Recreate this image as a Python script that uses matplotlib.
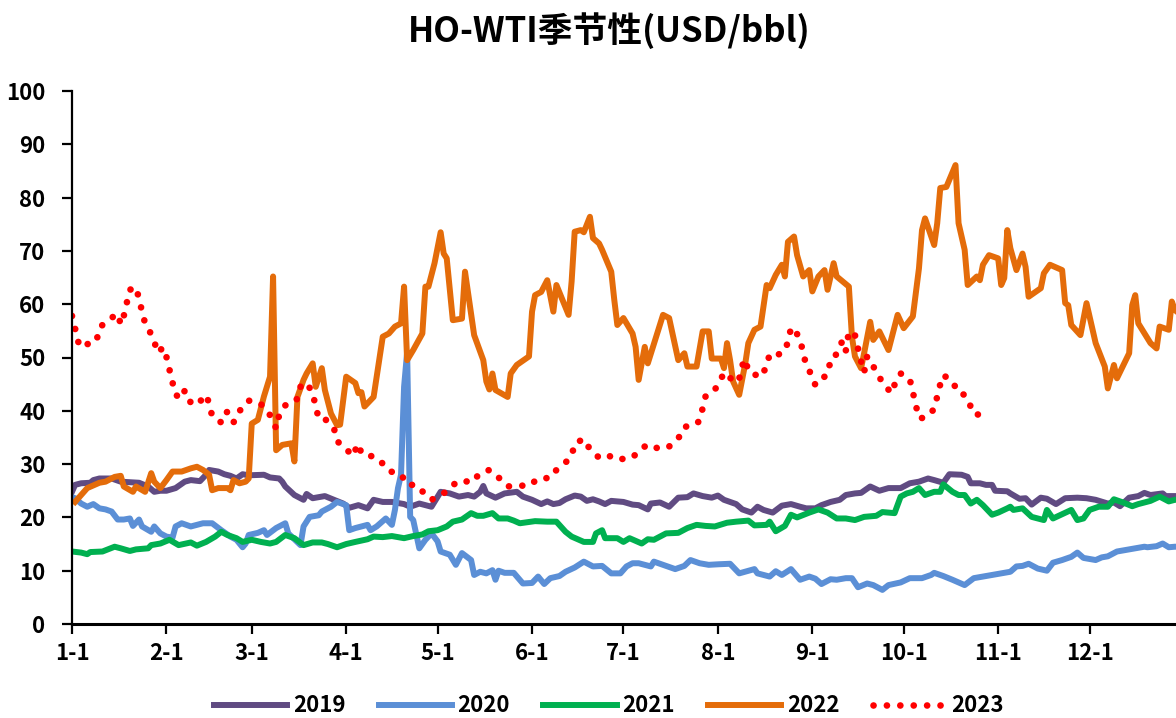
import matplotlib
matplotlib.use("Agg")
import matplotlib.pyplot as plt

plt.rcParams['font.family'] = ['Noto Sans CJK SC', 'DejaVu Sans']
plt.rcParams['font.weight'] = 'bold'

# month start (day of year) and tick labels
month_days = [0, 31, 59, 90, 120, 151, 181, 212, 243, 273, 304, 334]
month_labels = ['1-1', '2-1', '3-1', '4-1', '5-1', '6-1', '7-1', '8-1', '9-1', '10-1', '11-1', '12-1']

# HO-WTI spread by day of year, USD/bbl
days_2019 = [0, 1, 3, 6, 7, 9, 13, 16, 22, 25, 27, 29, 31, 34, 37, 39, 42, 44, 45, 48, 50, 52, 54, 56, 58,
             63, 65, 68, 69, 70, 73, 76, 77, 79, 83, 86, 89, 91, 94, 97, 99, 102, 105, 109, 111, 114, 118,
             121, 124, 127, 130, 132, 134, 135, 136, 139, 142, 146, 148, 151, 154, 156, 158, 160, 162, 165,
             167, 169, 171, 173, 175, 177, 181, 184, 186, 189, 190, 193, 196, 199, 202, 204, 207, 210, 212,
             214, 218, 220, 223, 225, 227, 230, 233, 236, 239, 241, 244, 246, 249, 252, 254, 257, 259, 262,
             265, 268, 272, 275, 278, 281, 283, 286, 288, 292, 294, 295, 298, 300, 302, 303, 307, 308, 311,
             313, 315, 318, 320, 323, 326, 330, 333, 336, 340, 342, 344, 347, 350, 352, 354, 358, 359, 362, 364]
vals_2019 = [24.8, 26.1, 26.4, 26.5, 27.0, 27.3, 27.3, 26.7, 26.5, 25.8, 24.8, 25.0, 25.0, 25.5, 26.7, 27.0,
             26.8, 28.0, 28.9, 28.6, 28.1, 27.8, 27.3, 28.1, 27.9, 28.0, 27.5, 27.3, 26.7, 25.8, 24.2, 23.3,
             24.4, 23.6, 24.0, 23.3, 22.6, 21.8, 22.3, 21.7, 23.3, 22.9, 22.9, 22.5, 22.0, 22.6, 22.0, 24.8,
             24.5, 23.9, 24.2, 23.9, 24.8, 25.9, 24.5, 23.7, 24.5, 24.8, 23.9, 23.3, 22.5, 23.0, 22.5, 22.7,
             23.4, 24.1, 23.9, 23.1, 23.4, 23.0, 22.5, 23.1, 22.9, 22.4, 22.3, 21.5, 22.6, 22.8, 22.0, 23.7,
             23.8, 24.5, 24.0, 23.7, 24.1, 23.3, 22.5, 21.5, 20.9, 22.0, 21.4, 20.9, 22.2, 22.5, 22.0, 21.7,
             21.7, 22.3, 22.9, 23.3, 24.2, 24.5, 24.6, 25.8, 25.0, 25.5, 25.5, 26.4, 26.7, 27.3, 27.0, 26.5,
             28.1, 28.0, 27.6, 26.4, 26.4, 26.1, 26.1, 25.0, 24.9, 24.5, 23.5, 23.6, 22.4, 23.7, 23.5, 22.5,
             23.6, 23.7, 23.6, 23.3, 22.6, 22.8, 22.1, 23.7, 24.0, 24.6, 24.2, 24.5, 24.0, 24.0, 24.0]

days_2020 = [0, 1, 3, 5, 7, 8, 9, 11, 13, 15, 17, 19, 20, 22, 23, 26, 27, 29, 31, 33, 34, 36, 39, 41, 43,
             46, 49, 52, 54, 56, 57, 58, 61, 63, 64, 67, 70, 71, 75, 76, 78, 81, 82, 85, 87, 90, 91, 93, 97,
             98, 100, 103, 105, 106, 107, 108, 109, 110, 111, 112, 114, 116, 118, 120, 121, 124, 126, 128,
             131, 132, 134, 136, 138, 139, 140, 142, 145, 148, 151, 153, 155, 157, 160, 162, 165, 168, 171,
             174, 177, 180, 182, 184, 186, 190, 191, 194, 198, 201, 203, 206, 209, 212, 216, 219, 224, 225,
             229, 231, 233, 236, 239, 242, 244, 246, 249, 251, 254, 256, 258, 261, 263, 266, 268, 272, 275,
             279, 282, 283, 286, 289, 293, 296, 299, 302, 305, 308, 310, 312, 314, 317, 320, 322, 325, 328,
             330, 332, 336, 338, 340, 343, 346, 349, 352, 353, 356, 358, 360, 362, 364]
vals_2020 = [23.8, 23.6, 22.6, 22.0, 22.5, 22.1, 21.7, 21.5, 21.1, 19.6, 19.6, 19.8, 18.4, 19.6, 18.3, 17.3,
             18.3, 17.0, 16.4, 16.2, 18.3, 18.9, 18.3, 18.6, 18.9, 18.9, 17.6, 16.4, 15.8, 14.4, 15.1, 16.7,
             17.1, 17.6, 16.7, 18.0, 18.9, 17.0, 14.8, 18.3, 20.1, 20.4, 21.1, 22.0, 22.9, 22.3, 17.6, 18.0,
             18.6, 17.6, 18.3, 19.8, 18.6, 21.4, 25.5, 28.0, 44.5, 51.0, 20.1, 19.5, 14.2, 15.8, 17.0, 15.5,
             13.6, 13.0, 11.1, 13.3, 12.0, 9.2, 9.8, 9.5, 10.1, 8.3, 10.0, 9.6, 9.6, 7.6, 7.7, 8.9, 7.5, 8.6,
             9.0, 9.8, 10.6, 11.7, 10.8, 10.9, 9.5, 9.5, 10.8, 11.4, 11.4, 10.8, 11.7, 11.1, 10.3, 10.9, 12.0,
             11.4, 11.1, 11.2, 11.3, 9.5, 10.3, 9.5, 8.9, 9.9, 9.2, 10.3, 8.3, 8.9, 8.5, 7.5, 8.4, 8.3, 8.6,
             8.6, 6.9, 7.6, 7.3, 6.4, 7.3, 7.8, 8.6, 8.6, 9.2, 9.6, 9.0, 8.3, 7.3, 8.6, 8.9, 9.2, 9.5, 9.8,
             10.8, 10.9, 11.3, 10.4, 10.0, 11.5, 12.0, 12.6, 13.4, 12.4, 12.0, 12.5, 12.7, 13.6, 13.9, 14.2,
             14.5, 14.4, 14.6, 15.1, 14.4, 14.5, 14.5]

days_2021 = [0, 3, 5, 6, 10, 14, 16, 19, 21, 25, 26, 29, 32, 35, 39, 41, 44, 47, 49, 51, 54, 56, 59, 62, 65,
             67, 70, 73, 76, 79, 82, 84, 87, 90, 93, 97, 99, 102, 105, 109, 112, 115, 117, 120, 123, 125, 128,
             131, 133, 135, 138, 140, 143, 145, 147, 152, 156, 159, 162, 164, 168, 171, 172, 174, 175, 179,
             181, 183, 187, 189, 191, 195, 199, 202, 205, 208, 211, 215, 218, 222, 224, 228, 229, 231, 234,
             236, 238, 242, 245, 248, 251, 254, 257, 260, 264, 266, 270, 272, 274, 276, 278, 280, 283, 285,
             286, 289, 291, 293, 295, 297, 299, 302, 304, 307, 308, 309, 312, 315, 319, 320, 322, 325, 328,
             330, 332, 334, 337, 340, 342, 345, 348, 350, 354, 357, 360, 362, 364]
vals_2021 = [13.6, 13.4, 13.1, 13.5, 13.6, 14.5, 14.2, 13.7, 14.0, 14.2, 14.8, 15.1, 15.8, 14.8, 15.3, 14.7,
             15.4, 16.4, 17.3, 16.7, 16.1, 15.4, 15.8, 15.4, 15.1, 15.4, 16.7, 16.1, 14.8, 15.3, 15.3, 15.0,
             14.4, 15.0, 15.4, 15.9, 16.4, 16.3, 16.5, 16.1, 16.5, 16.8, 17.4, 17.6, 18.3, 19.2, 19.6, 20.8,
             20.3, 20.3, 20.8, 19.8, 19.8, 19.4, 18.9, 19.3, 19.2, 19.2, 17.3, 16.4, 15.4, 15.4, 17.0, 17.6,
             16.1, 16.1, 15.4, 16.1, 15.1, 15.9, 15.8, 17.0, 17.1, 18.0, 18.6, 18.4, 18.3, 19.0, 19.2, 19.4,
             18.5, 18.6, 19.2, 17.4, 18.4, 20.5, 20.0, 20.9, 21.5, 20.9, 19.8, 19.8, 19.5, 20.1, 20.3, 21.0,
             20.8, 23.9, 24.5, 24.8, 25.5, 24.2, 24.8, 24.8, 26.2, 24.8, 24.2, 24.2, 22.6, 23.3, 22.3, 20.5,
             20.9, 21.7, 22.0, 21.4, 21.7, 20.1, 19.5, 21.4, 19.8, 20.6, 21.4, 19.5, 19.8, 21.4, 22.0, 22.0,
             23.4, 22.8, 22.1, 22.5, 23.1, 23.9, 23.0, 23.3, 23.3]

days_2022 = [1, 5, 9, 11, 14, 16, 17, 20, 21, 24, 26, 27, 29, 31, 33, 36, 39, 41, 43, 45, 46, 48, 51, 52,
             53, 55, 57, 58, 59, 61, 63, 65, 66, 67, 69, 72, 73, 74, 76, 77, 79, 80, 82, 83, 85, 87, 88, 90,
             93, 94, 95, 96, 99, 102, 104, 106, 108, 109, 110, 112, 115, 116, 117, 119, 121, 122, 123, 125,
             128, 129, 132, 135, 136, 137, 138, 139, 143, 144, 146, 150, 151, 152, 154, 156, 158, 159, 163,
             164, 165, 167, 168, 170, 171, 173, 174, 177, 178, 179, 181, 184, 185, 186, 188, 189, 194, 196,
             199, 201, 202, 205, 207, 209, 210, 213, 214, 215, 216, 217, 219, 221, 222, 224, 226, 228, 229,
             231, 233, 234, 235, 237, 238, 240, 242, 243, 245, 247, 248, 250, 251, 255, 256, 257, 259, 260,
             262, 263, 265, 268, 271, 273, 276, 278, 279, 280, 283, 284, 285, 287, 290, 291, 293, 294, 297,
             298, 299, 301, 304, 305, 306, 307, 308, 310, 312, 313, 314, 318, 319, 321, 325, 326, 327, 328,
             331, 333, 336, 339, 340, 342, 343, 347, 348, 349, 350, 354, 356, 357, 360, 361, 362, 364]
vals_2022 = [22.9, 25.5, 26.5, 26.7, 27.6, 27.8, 25.8, 24.8, 25.8, 24.8, 28.3, 26.7, 25.5, 27.0, 28.6, 28.6,
             29.2, 29.5, 28.9, 28.0, 25.1, 25.5, 25.5, 25.1, 27.0, 26.4, 26.7, 27.3, 37.6, 38.3, 42.7, 46.4,
             65.2, 32.6, 33.6, 33.9, 30.5, 42.6, 45.8, 47.0, 48.9, 44.5, 48.0, 43.9, 39.5, 37.3, 37.4, 46.4,
             45.2, 43.3, 43.5, 40.8, 42.6, 53.9, 54.5, 55.8, 56.4, 63.3, 49.5, 51.4, 54.5, 63.3, 63.3, 67.7,
             73.5, 69.5, 68.6, 57.0, 57.3, 66.1, 54.2, 49.5, 45.5, 44.0, 47.0, 43.9, 42.6, 47.0, 48.6, 50.2,
             58.6, 61.7, 62.3, 64.5, 58.6, 63.6, 58.0, 64.3, 73.6, 73.9, 73.5, 76.4, 72.4, 71.4, 70.2, 66.1,
             60.8, 56.1, 57.4, 54.5, 52.0, 45.8, 52.0, 48.9, 58.0, 57.4, 49.5, 50.8, 48.3, 48.3, 54.9, 54.9,
             49.8, 49.8, 48.0, 52.7, 49.5, 45.5, 43.0, 48.9, 52.7, 55.2, 55.8, 63.6, 63.0, 65.5, 67.4, 65.2,
             71.7, 72.7, 69.2, 65.2, 66.4, 62.4, 65.2, 66.4, 62.7, 67.7, 65.2, 63.3, 53.9, 50.2, 48.0, 50.8,
             56.7, 53.3, 54.9, 51.4, 58.0, 55.5, 57.7, 66.7, 73.9, 76.1, 71.1, 75.2, 81.8, 82.0, 86.1, 75.2,
             70.2, 63.6, 65.2, 64.5, 67.4, 69.2, 68.6, 63.6, 64.9, 73.9, 70.5, 66.4, 69.5, 67.0, 61.4, 63.0,
             65.8, 67.4, 66.4, 60.2, 59.8, 56.1, 54.2, 60.2, 52.7, 48.3, 44.2, 48.6, 46.1, 50.8, 59.8, 61.7,
             56.4, 52.7, 51.7, 55.8, 55.2, 60.5, 58.9, 58.0]

days_2023 = [0, 1, 2, 3, 5, 8, 9, 11, 15, 16, 17, 18, 19, 21, 22, 23, 24, 25, 27, 28, 30, 31, 32, 33, 34,
             36, 37, 39, 41, 44, 45, 46, 49, 50, 51, 53, 55, 57, 58, 61, 64, 66, 67, 68, 70, 72, 74, 75, 77,
             79, 80, 81, 83, 86, 87, 90, 92, 94, 95, 97, 99, 102, 104, 108, 110, 113, 116, 118, 122, 125, 128,
             131, 134, 137, 140, 143, 146, 150, 153, 157, 159, 162, 164, 165, 168, 170, 173, 176, 178, 182,
             184, 186, 189, 193, 196, 199, 201, 204, 206, 207, 208, 211, 213, 215, 217, 219, 220, 221, 222,
             226, 228, 229, 232, 234, 235, 236, 237, 239, 240, 241, 243, 244, 247, 248, 250, 251, 253, 254,
             255, 257, 258, 259, 260, 261, 264, 266, 269, 270, 272, 275, 276, 277, 278, 280, 283, 284, 285,
             286, 289, 291, 293, 295, 297, 299]
vals_2023 = [57.8, 55.5, 53.0, 51.9, 52.5, 53.0, 55.5, 56.7, 58.2, 56.2, 57.8, 60.3, 62.7, 63.2, 61.0, 58.6,
             56.4, 55.5, 53.1, 50.9, 51.9, 50.1, 47.7, 45.3, 43.0, 42.3, 43.8, 41.5, 41.1, 43.0, 41.4, 39.0,
             37.8, 39.5, 39.8, 37.8, 40.0, 41.0, 41.9, 41.7, 40.3, 38.0, 36.7, 39.2, 41.0, 42.0, 42.2, 44.5,
             45.3, 43.3, 40.8, 38.5, 38.5, 36.7, 34.3, 32.9, 31.5, 33.8, 32.0, 31.5, 31.5, 30.1, 28.7, 28.1,
             26.1, 26.1, 24.3, 23.3, 24.5, 26.1, 27.0, 26.5, 28.3, 28.9, 27.5, 25.8, 26.0, 25.9, 27.3, 27.4,
             28.9, 30.3, 31.5, 33.9, 34.7, 32.8, 31.2, 31.7, 30.9, 31.0, 31.2, 32.5, 33.7, 32.8, 33.3, 34.8,
             37.0, 37.2, 38.1, 40.5, 42.8, 43.9, 46.2, 47.2, 45.3, 46.0, 48.5, 49.7, 47.4, 46.3, 48.3, 50.7,
             50.6, 51.2, 53.0, 55.5, 55.5, 53.3, 50.9, 48.5, 46.5, 44.8, 46.4, 48.4, 48.9, 51.1, 53.2, 51.3,
             54.9, 54.2, 51.7, 49.3, 47.2, 50.2, 47.4, 45.3, 43.3, 44.9, 47.0, 45.9, 43.5, 41.0, 38.6, 38.7,
             40.3, 42.7, 45.0, 46.7, 45.5, 43.3, 43.0, 40.8, 39.1, 40.3]

fig = plt.figure(figsize=(11.76, 7.18), dpi=100)
# axis runs to 12-31, a little past the right edge of the canvas
ax = fig.add_axes([72 / 1176, 1 - 624 / 718, 1112 / 1176, 533 / 718])

lw = 4.3
ax.plot(days_2019, vals_2019, color='#604B82', lw=lw, label='2019', solid_joinstyle='round')
ax.plot(days_2020, vals_2020, color='#5B8FD6', lw=lw, label='2020', solid_joinstyle='round')
ax.plot(days_2021, vals_2021, color='#00B050', lw=lw, label='2021', solid_joinstyle='round')
ax.plot(days_2022, vals_2022, color='#E46C0A', lw=lw, label='2022', solid_joinstyle='round')
ax.plot(days_2023, vals_2023, color='#FF0000', lw=4.8, label='2023',
        linestyle=(0, (0.01, 2.0)), dash_capstyle='round')

ax.set_xlim(0, 365)
ax.set_ylim(0, 100)
ax.set_yticks(range(0, 101, 10))
ax.set_xticks(month_days)
ax.set_xticklabels(month_labels)

for side in ['top', 'right']:
    ax.spines[side].set_visible(False)
ax.spines['left'].set_linewidth(1.6)
ax.spines['bottom'].set_linewidth(2.2)
ax.tick_params(axis='both', direction='out', length=7, width=1.6, labelsize=16)
ax.tick_params(axis='y', pad=12)
ax.tick_params(axis='x', pad=6)

fig.text(609 / 1176, 1 - 31 / 718, 'HO-WTI季节性(USD/bbl)', ha='center', va='center',
         fontsize=25, fontweight='bold')

fig.legend(loc='center', bbox_to_anchor=(609 / 1176, 1 - 706 / 718), ncol=5, frameon=False,
           fontsize=16, handlelength=3.3, handletextpad=0.25, columnspacing=1.5)

fig.savefig('out.png', dpi=100)
